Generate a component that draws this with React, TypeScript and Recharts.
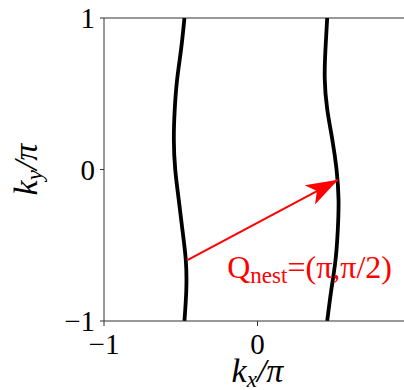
import * as React from "react";
import {
  ComposedChart,
  Line,
  XAxis,
  YAxis,
  ReferenceLine,
  ReferenceDot,
} from "recharts";

// Fermi surface sheets (kx as a function of ky)
const kyGrid = [1, 0.8, 0.6, 0.4, 0.2, 0, -0.2, -0.4, -0.6, -0.8, -1];
const leftKx = [-0.476, -0.497, -0.523, -0.539, -0.545, -0.536, -0.513, -0.489, -0.467, -0.464, -0.476];
const rightKx = [0.454, 0.443, 0.438, 0.454, 0.487, 0.515, 0.528, 0.523, 0.508, 0.48, 0.454];

// nesting vector
const arrowKx = [-0.46, 0.525];
const arrowKy = [-0.6, -0.068];
const labelPos = { kx: -0.197, ky: -0.716 };

const ticks = [-1, 0, 1];

const leftSheet = kyGrid.map((ky, i) => ({ kx: leftKx[i], ky }));
const rightSheet = kyGrid.map((ky, i) => ({ kx: rightKx[i], ky }));
const arrowData = arrowKx.map((kx, i) => ({ kx, ky: arrowKy[i] }));

const serif = "'Liberation Serif', 'Times New Roman', serif";
const fmt = (v: number) => (v < 0 ? `\u2212${Math.abs(v)}` : String(v));

const XLabel = (props: any) => {
  const vb = props.viewBox || {};
  const cx = vb.x + vb.width / 2;
  const y = vb.y + 61;
  return (
    <text x={cx} y={y} textAnchor="middle" fontFamily={serif} fontStyle="italic" fontSize={34} fill="#000">
      k<tspan fontSize={23} dy={5}>x</tspan>
      <tspan dy={-5}>/π</tspan>
    </text>
  );
};

const YLabel = (props: any) => {
  const vb = props.viewBox || {};
  const x = vb.x + 37;
  const cy = vb.y + vb.height / 2;
  return (
    <text
      x={x}
      y={cy}
      transform={`rotate(-90 ${x} ${cy})`}
      textAnchor="middle"
      fontFamily={serif}
      fontStyle="italic"
      fontSize={34}
      fill="#000"
    >
      k<tspan fontSize={23} dy={5}>y</tspan>
      <tspan dy={-5}>/π</tspan>
    </text>
  );
};

const NestLabel = (props: any) => (
  <text x={props.cx} y={props.cy} fontFamily={serif} fontSize={32} fill="#ff0000">
    Q<tspan fontSize={23} dy={5}>nest</tspan>
    <tspan dy={-5}>=(π,π/2)</tspan>
  </text>
);

export default function App() {
  const tickStyle = { fontSize: 29, fill: "#000", fontFamily: serif };
  return (
    <div
      style={{
        position: "absolute",
        left: 0,
        top: 0,
        width: 404,
        height: 390,
        overflow: "hidden",
        background: "#fff",
      }}
    >
      <svg width={0} height={0} style={{ position: "absolute" }}>
        <defs>
          <marker
            id="nestHead"
            viewBox="-34 -12 36 24"
            refX={0}
            refY={0}
            markerWidth={36}
            markerHeight={24}
            markerUnits="userSpaceOnUse"
            orient="auto"
          >
            <path d="M0,0 L-32,-11 L-24,0 L-32,11 Z" fill="#ff0000" />
          </marker>
        </defs>
      </svg>
      <ComposedChart width={430} height={390} margin={{ top: 18, right: 19, bottom: 0, left: 0 }}>
        <XAxis
          type="number"
          dataKey="kx"
          domain={[-1, 1]}
          ticks={ticks}
          allowDataOverflow
          height={69}
          tickSize={5}
          tickMargin={7}
          tickFormatter={fmt}
          tick={tickStyle}
          stroke="#333"
          label={<XLabel />}
        />
        <YAxis
          type="number"
          dataKey="ky"
          domain={[-1, 1]}
          ticks={ticks}
          allowDataOverflow
          width={104}
          tickSize={4}
          tickMargin={5}
          tickFormatter={fmt}
          tick={tickStyle}
          stroke="#333"
          label={<YLabel />}
        />
        <ReferenceLine y={1} stroke="#333" strokeWidth={1} />
        <ReferenceLine x={1} stroke="#333" strokeWidth={1} />
        <Line
          data={leftSheet}
          dataKey="ky"
          type="natural"
          stroke="#000"
          strokeWidth={3.8}
          dot={false}
          isAnimationActive={false}
        />
        <Line
          data={rightSheet}
          dataKey="ky"
          type="natural"
          stroke="#000"
          strokeWidth={3.8}
          dot={false}
          isAnimationActive={false}
        />
        <Line
          data={arrowData}
          dataKey="ky"
          type="linear"
          stroke="#ff0000"
          strokeWidth={2}
          dot={false}
          markerEnd="url(#nestHead)"
          isAnimationActive={false}
        />
        <ReferenceDot x={labelPos.kx} y={labelPos.ky} r={0} shape={NestLabel} ifOverflow="visible" />
      </ComposedChart>
    </div>
  );
}
